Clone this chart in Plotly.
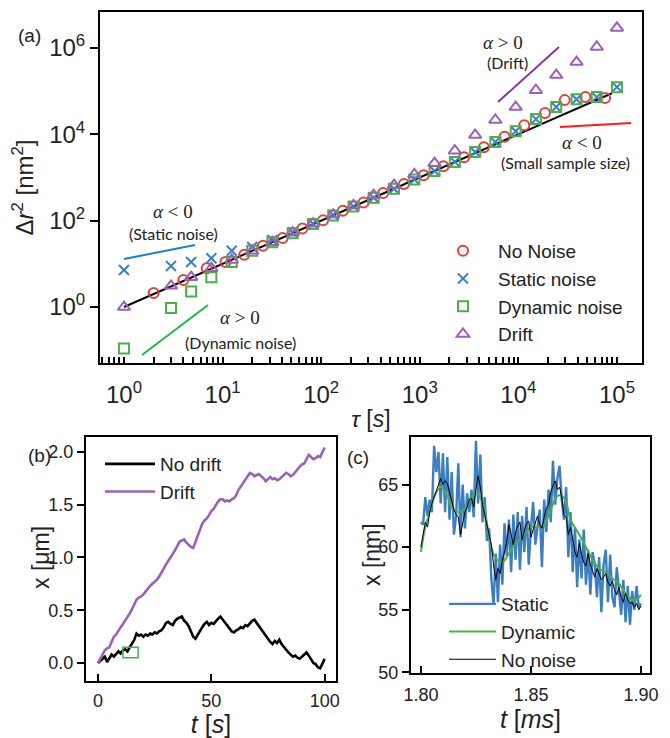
import plotly.graph_objects as go

# The page body adds an 8px margin, so the figure is drawn 8px smaller and shifted.
OFF = 8
W, H = 670 - OFF, 738 - OFF
def px(x):
    return (x - OFF) / W
def py(y):
    return 1 - (y - OFF) / H

FONT = "Liberation Sans"
TXT = "#222222"

# ---------------- Panel (a): MSD vs lag time ----------------
tau_markers = [1, 3.0, 4.8, 7.7, 12.4, 20.0, 32.0, 51.4, 82.6, 132.4, 212.8, 341.2,
               548.3, 881.0, 1413, 2270, 3648, 5848, 9397, 15070, 24210, 38900,
               62370, 100000]
msd_static = [7.2, 8.9, 11.0, 13.5, 20.0, 24.5, 35.5, 53.7, 85.1, 134.9, 213.8, 338.8,
              549.5, 891.3, 1413, 2291, 3890, 6607, 11750, 22390, 42660, 64570,
              72440, 123000]
msd_dynamic = [0.11, 0.95, 2.3, 4.9, 11.0, 20.0, 31.6, 51.3, 83.2, 131.8, 213.8, 338.8,
               549.5, 891.3, 1413, 2291, 3890, 6607, 11750, 22390, 42660, 64570,
               72440, 123000]
msd_drift = [1.0, 3.1, 4.9, 7.9, 12.3, 20.0, 31.6, 52.5, 85.1, 138.0, 223.9, 389.0,
             660.7, 1175, 2138, 4169, 9550, 21380, 42660, 104700, 234400, 467700,
             1047000, 2884000]
tau_nonoise = [2.0, 4.0, 6.9, 10.7, 16.6, 25.7, 40.7, 64.6, 104.7, 166.0, 269.2, 426.6,
               691.8, 1096, 1738, 2818, 4467, 7244, 11480, 18620, 29510, 47860, 75860]
msd_nonoise = [2.1, 4.2, 7.9, 11.0, 16.2, 26.3, 39.8, 66.1, 102.3, 169.8, 263.0, 436.5,
               707.9, 1122, 1820, 2951, 5012, 8710, 16220, 30900, 61660, 72440, 69180]
line_tau = [1, 89000]
line_msd = [1, 89000]

a_xtick_vals = [1, 10, 100, 1000, 10000, 100000]
a_xtick_text = ["10<sup>0</sup>", "10<sup>1</sup>", "10<sup>2</sup>", "10<sup>3</sup>",
                "10<sup>4</sup>", "10<sup>5</sup>"]
a_ytick_vals = [1, 100, 10000, 1000000]
a_ytick_text = ["10<sup>0</sup>", "10<sup>2</sup>", "10<sup>4</sup>", "10<sup>6</sup>"]
a_minor_vals = [m * 10 ** e for e in range(-1, 6) for m in range(2, 10)]

# ---------------- Panel (b): trajectories ----------------
t_b = list(range(0, 101))
x_nodrift = [0.00, 0.02, 0.04, 0.06, 0.01, 0.05, 0.08, 0.06, 0.09, 0.11, 0.09, 0.12, 0.13,
             0.11, 0.15, 0.19, 0.22, 0.28, 0.26, 0.27, 0.25, 0.27, 0.26, 0.28, 0.27, 0.29,
             0.28, 0.30, 0.31, 0.34, 0.38, 0.39, 0.37, 0.36, 0.40, 0.42, 0.43, 0.44, 0.40,
             0.38, 0.35, 0.30, 0.25, 0.23, 0.27, 0.31, 0.34, 0.37, 0.39, 0.36, 0.38, 0.37,
             0.40, 0.42, 0.44, 0.41, 0.39, 0.36, 0.33, 0.30, 0.29, 0.31, 0.32, 0.34, 0.33,
             0.36, 0.35, 0.38, 0.40, 0.41, 0.38, 0.35, 0.32, 0.29, 0.25, 0.23, 0.20, 0.18,
             0.21, 0.19, 0.22, 0.18, 0.15, 0.12, 0.10, 0.08, 0.06, 0.07, 0.05, 0.04, 0.06,
             0.08, 0.10, 0.07, 0.03, 0.00, -0.01, -0.04, -0.05, 0.00, 0.04]
x_drift = [0.00, 0.04, 0.09, 0.12, 0.14, 0.15, 0.20, 0.25, 0.27, 0.31, 0.34, 0.37, 0.40,
           0.44, 0.47, 0.51, 0.56, 0.60, 0.62, 0.63, 0.65, 0.68, 0.71, 0.73, 0.75, 0.77,
           0.79, 0.82, 0.86, 0.90, 0.94, 0.97, 1.00, 1.03, 1.07, 1.11, 1.15, 1.16, 1.17,
           1.14, 1.12, 1.10, 1.09, 1.15, 1.21, 1.26, 1.32, 1.35, 1.37, 1.40, 1.44, 1.46,
           1.50, 1.53, 1.55, 1.55, 1.53, 1.54, 1.53, 1.55, 1.56, 1.59, 1.64, 1.67, 1.71,
           1.73, 1.77, 1.80, 1.79, 1.77, 1.78, 1.79, 1.77, 1.75, 1.72, 1.74, 1.76, 1.74,
           1.75, 1.73, 1.74, 1.76, 1.78, 1.80, 1.79, 1.77, 1.78, 1.81, 1.84, 1.86, 1.88,
           1.89, 1.93, 1.97, 1.95, 1.93, 1.94, 1.96, 1.95, 1.99, 2.04]
zoom_box_t = [11, 17.7]
zoom_box_x = [0.05, 0.15]

# ---------------- Panel (c): noise examples ----------------
t_c = [round(1.800 + 0.001 * i, 3) for i in range(101)]
x_nonoise = [60.0, 61.2, 62.0, 61.6, 62.8, 63.5, 64.0, 64.6, 65.0, 65.5, 65.0, 65.3, 65.1,
             64.4, 63.6, 63.0, 62.6, 62.4, 61.0, 61.9, 62.8, 63.2, 63.8, 63.9, 63.2, 64.6,
             65.7, 64.8, 63.4, 62.6, 61.8, 60.8, 60.2, 58.6, 57.4, 58.3, 57.9, 58.9, 59.6,
             60.4, 61.8, 61.0, 60.2, 61.2, 61.7, 62.0, 60.6, 61.3, 61.9, 62.1, 60.8, 61.4,
             61.9, 62.5, 61.8, 61.5, 62.4, 63.1, 63.4, 64.4, 64.9, 65.3, 64.6, 64.8, 64.0,
             62.6, 62.4, 61.0, 61.6, 60.4, 59.6, 59.2, 60.3, 59.4, 58.8, 58.5, 59.5, 58.6,
             58.0, 57.6, 58.3, 57.8, 57.4, 57.6, 57.9, 57.2, 56.9, 57.3, 56.6, 56.2, 56.8,
             56.0, 55.6, 56.3, 55.8, 55.5, 55.6, 55.2, 55.5, 55.0, 55.3]
x_static = [62.0, 61.8, 64.0, 62.5, 63.8, 62.8, 68.1, 66.0, 67.6, 63.5, 67.5, 62.8, 67.2,
            62.2, 66.0, 61.0, 62.5, 66.7, 60.8, 65.0, 61.5, 64.3, 62.8, 64.6, 62.4, 68.5,
            63.5, 67.4, 62.0, 64.0, 60.5, 61.5, 57.5, 55.4, 59.5, 55.6, 60.2, 57.0, 61.9,
            59.3, 62.2, 58.0, 62.6, 59.0, 62.8, 58.2, 62.5, 59.6, 63.2, 58.6, 61.5, 63.6,
            60.2, 61.8, 63.0, 58.4, 63.8, 61.2, 64.6, 62.0, 66.9, 63.4, 65.5, 66.5, 63.8,
            62.2, 64.8, 59.2, 62.8, 58.0, 61.6, 56.8, 60.6, 57.5, 61.4, 57.0, 59.8, 56.2,
            59.6, 58.6, 56.0, 59.2, 54.8, 58.6, 59.8, 55.6, 59.4, 56.0, 55.2, 58.4, 56.6,
            54.6, 57.4, 54.0, 56.9, 53.8, 56.5, 55.0, 56.9, 55.2, 55.5]
t_dyn = [1.800, 1.802, 1.804, 1.806, 1.809, 1.812, 1.814, 1.817, 1.820, 1.823, 1.825,
         1.828, 1.830, 1.832, 1.834, 1.837, 1.840, 1.843, 1.847, 1.850, 1.853, 1.856,
         1.859, 1.862, 1.864, 1.866, 1.868, 1.872, 1.875, 1.878, 1.881, 1.884, 1.887,
         1.890, 1.893, 1.896, 1.898, 1.900]
x_dynamic = [59.6, 61.6, 62.8, 64.0, 64.8, 64.1, 63.2, 62.8, 63.1, 63.9, 64.3, 63.6, 61.9,
             60.0, 59.1, 58.8, 59.5, 60.3, 61.0, 61.6, 61.6, 61.8, 63.0, 64.1, 64.1, 63.6,
             62.2, 61.0, 60.0, 59.0, 58.3, 58.0, 57.5, 57.1, 56.3, 55.8, 55.8, 56.2]

C_RED = "#e0403c"
C_BLUE = "#3b7fc0"
C_GREEN = "#4caf4a"
C_PURPLE = "#9a62b5"

fig = go.Figure()

# (a)
fig.add_trace(go.Scatter(x=line_tau, y=line_msd, mode="lines", line=dict(color="black", width=2),
                         showlegend=False, xaxis="x", yaxis="y", hoverinfo="skip"))
fig.add_trace(go.Scatter(x=tau_nonoise, y=msd_nonoise, mode="markers", name="No Noise",
                         marker=dict(symbol="circle-open", size=10, color=C_RED, line=dict(width=2, color=C_RED)),
                         xaxis="x", yaxis="y", legend="legend"))
fig.add_trace(go.Scatter(x=tau_markers, y=msd_static, mode="markers", name="Static noise",
                         marker=dict(symbol="x-thin-open", size=10, color=C_BLUE, line=dict(width=2, color=C_BLUE)),
                         xaxis="x", yaxis="y", legend="legend"))
fig.add_trace(go.Scatter(x=tau_markers, y=msd_dynamic, mode="markers", name="Dynamic noise",
                         marker=dict(symbol="square-open", size=10, color=C_GREEN, line=dict(width=2, color=C_GREEN)),
                         xaxis="x", yaxis="y", legend="legend"))
fig.add_trace(go.Scatter(x=tau_markers, y=msd_drift, mode="markers", name="Drift",
                         marker=dict(symbol="triangle-up-open", size=11, color=C_PURPLE, line=dict(width=2, color=C_PURPLE)),
                         xaxis="x", yaxis="y", legend="legend"))

# (b)
fig.add_trace(go.Scatter(x=t_b, y=x_nodrift, mode="lines", name="No drift",
                         line=dict(color="black", width=2.6), xaxis="x2", yaxis="y2", legend="legend2"))
fig.add_trace(go.Scatter(x=t_b, y=x_drift, mode="lines", name="Drift",
                         line=dict(color=C_PURPLE, width=2.6), xaxis="x2", yaxis="y2", legend="legend2"))

# (c)
fig.add_trace(go.Scatter(x=t_c, y=x_static, mode="lines", name="Static",
                         line=dict(color=C_BLUE, width=2.4), xaxis="x3", yaxis="y3", legend="legend3"))
fig.add_trace(go.Scatter(x=t_dyn, y=x_dynamic, mode="lines", name="Dynamic",
                         line=dict(color=C_GREEN, width=2, shape="spline"), xaxis="x3", yaxis="y3", legend="legend3"))
fig.add_trace(go.Scatter(x=t_c, y=x_nonoise, mode="lines", name="No noise",
                         line=dict(color="black", width=1), xaxis="x3", yaxis="y3", legend="legend3"))

axis_common = dict(showgrid=False, zeroline=False, showline=True, mirror=True,
                   linecolor="black", linewidth=2, automargin=False,
                   tickfont=dict(family=FONT, color=TXT), tickcolor="black", tickwidth=2)

fig.update_layout(
    width=W, height=H, margin=dict(l=0, r=0, t=0, b=0),
    paper_bgcolor="white", plot_bgcolor="white",
    font=dict(family=FONT, color=TXT),
    xaxis=dict(axis_common, type="log", domain=[px(100), px(642)], range=[-0.243, 5.254],
               anchor="y", tickvals=a_xtick_vals, ticktext=a_xtick_text, ticks="inside",
               ticklen=6, tickwidth=1.5, tickfont=dict(family=FONT, size=24, color=TXT),
               ticklabelstandoff=9,
               minor=dict(ticks="inside", ticklen=6, tickwidth=1.5, tickcolor="black",
                          tickvals=a_minor_vals),
               title=dict(text="<i>τ</i> [<i>s</i>]", font=dict(family=FONT, size=23, color=TXT), standoff=4)),
    yaxis=dict(axis_common, type="log", domain=[py(363), py(12)], range=[-1.296, 6.83],
               anchor="x", tickvals=a_ytick_vals, ticktext=a_ytick_text, ticks="outside",
               ticklen=8, tickfont=dict(family=FONT, size=24, color=TXT),
               title=dict(text="Δ<i>r</i><sup>2</sup> [nm<sup>2</sup>]",
                          font=dict(family=FONT, size=24, color=TXT), standoff=12)),
    xaxis2=dict(axis_common, domain=[px(86), px(336)], range=[-5.3, 105], anchor="y2",
                tickvals=[0, 50, 100], ticks="inside", ticklen=7,
                tickfont=dict(family=FONT, size=18, color=TXT), ticklabelstandoff=2,
                title=dict(text="<i>t</i> [<i>s</i>]", font=dict(family=FONT, size=25, color=TXT), standoff=2)),
    yaxis2=dict(axis_common, domain=[py(681), py(437)], range=[-0.17, 2.14], anchor="x2",
                tickvals=[0, 0.5, 1.0, 1.5, 2.0], tickformat=".1f", ticks="outside", ticklen=7,
                tickfont=dict(family=FONT, size=18, color=TXT)),
    xaxis3=dict(axis_common, domain=[px(411), px(650)], range=[1.7955, 1.9041], anchor="y3",
                tickvals=[1.80, 1.85, 1.90], tickformat=".2f", ticks="inside", ticklen=7,
                tickfont=dict(family=FONT, size=18, color=TXT), ticklabelstandoff=4,
                title=dict(text="<i>t</i> [<i>ms</i>]", font=dict(family=FONT, size=25, color=TXT), standoff=2)),
    yaxis3=dict(axis_common, domain=[py(673), py(437)], range=[49.95, 68.8], anchor="x3",
                tickvals=[50, 55, 60, 65], ticks="outside", ticklen=7,
                tickfont=dict(family=FONT, size=18, color=TXT)),
    legend=dict(x=px(428), y=py(232), xanchor="left", yanchor="top", bgcolor="rgba(0,0,0,0)",
                font=dict(family=FONT, size=19, color=TXT), itemwidth=60, tracegroupgap=0),
    legend2=dict(x=px(100), y=py(445), xanchor="left", yanchor="top", bgcolor="rgba(0,0,0,0)",
                 font=dict(family=FONT, size=19, color=TXT), itemwidth=50),
    legend3=dict(x=px(444), y=py(585), xanchor="left", yanchor="top", bgcolor="rgba(0,0,0,0)",
                 font=dict(family=FONT, size=19, color=TXT), itemwidth=47),
    showlegend=True,
)

# annotation segments in panel (a)
segs = [((124, 259), (195, 245), "#1a7fd6"),
        ((142, 355), (208, 305), "#1cb84a"),
        ((498, 102), (559, 47), "#7a35b0"),
        ((560, 127), (631, 123), "#ff1a1a")]
for (x0, y0), (x1, y1), c in segs:
    fig.add_shape(type="line", xref="paper", yref="paper", x0=px(x0), y0=py(y0),
                  x1=px(x1), y1=py(y1), line=dict(color=c, width=2))

# green zoom box in (b)
fig.add_shape(type="rect", xref="x2", yref="y2", x0=zoom_box_t[0], x1=zoom_box_t[1],
              y0=zoom_box_x[0], y1=zoom_box_x[1], line=dict(color="#3cb34a", width=1.5))

SERIF = "Liberation Serif"
SANS2 = "Lato"
texts = [
    ("<i>α</i> < 0", 173, 212, SERIF, 19, 0),
    ("(Static noise)", 173, 233, SANS2, 16, 0),
    ("<i>α</i> > 0", 240, 318, SERIF, 19, 0),
    ("(Dynamic noise)", 240, 342, SANS2, 16, 0),
    ("<i>α</i> > 0", 503, 42, SERIF, 19, 0),
    ("(Drift)", 507, 63, SANS2, 16, 0),
    ("<i>α</i> < 0", 582, 142, SERIF, 19, 0),
    ("(Small sample size)", 565, 163, SANS2, 16, 0),
    ("(a)", 29, 35, FONT, 19, 0),
    ("(b)", 39, 455, FONT, 19, 0),
    ("(c)", 358, 457, FONT, 19, 0),
    ("x [μm]", 41, 558, FONT, 23, -90),
    ("x [nm]", 372, 555, FONT, 23, -90),
]
for t, x, y, fam, sz, ang in texts:
    fig.add_annotation(text=t, xref="paper", yref="paper", x=px(x), y=py(y),
                       xanchor="center", yanchor="middle", showarrow=False, textangle=ang,
                       font=dict(family=fam, size=sz, color=TXT))

fig.write_html("out.html")
